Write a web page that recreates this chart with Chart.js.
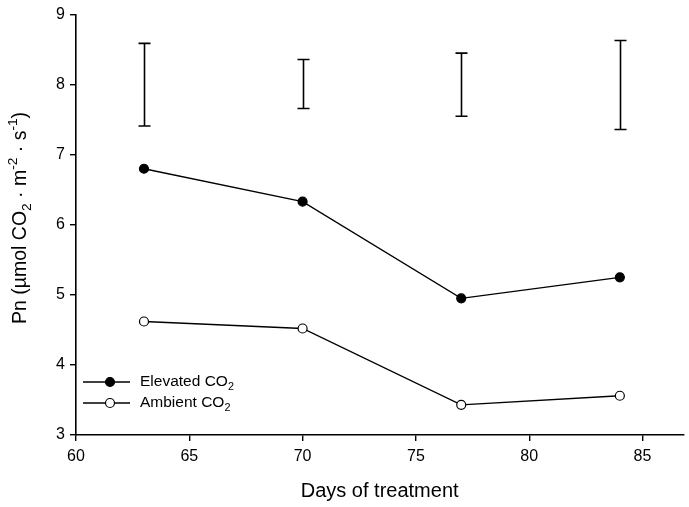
<!DOCTYPE html>
<html>
<head>
<meta charset="utf-8">
<script src="https://cdn.jsdelivr.net/npm/chart.js@4/dist/chart.umd.min.js"></script>
<style>
  html, body { margin: 0; padding: 0; background: #fff; overflow: hidden; }
  canvas { display: block; }
</style>
</head>
<body>
<canvas id="graph" width="689" height="507"></canvas>
<script>
// days of treatment
const days = [63, 70, 77, 84];
// net photosynthesis, umol CO2 m-2 s-1
const elevated = [6.80, 6.33, 4.95, 5.25];
const ambient = [4.62, 4.52, 3.43, 3.56];
// LSD bars drawn at the top
const barLow = [7.41, 7.66, 7.55, 7.36];
const barHigh = [8.59, 8.36, 8.45, 8.63];

const FONT = '"Liberation Sans", Arial, sans-serif';

function toPoints(ys) {
    return days.map((d, i) => ({ x: d, y: ys[i] }));
}

// vertical bars with caps
const errorBars = {
    id: 'errorBars',
    afterDatasetsDraw(chart) {
        const { ctx, scales: { x, y } } = chart;
        ctx.save();
        ctx.strokeStyle = '#000';
        ctx.lineWidth = 1.6;
        days.forEach((d, i) => {
            const px = Math.round(x.getPixelForValue(d)) + 0.5;
            const top = y.getPixelForValue(barHigh[i]);
            const bot = y.getPixelForValue(barLow[i]);
            ctx.beginPath();
            ctx.moveTo(px, top); ctx.lineTo(px, bot);
            ctx.moveTo(px - 6, top); ctx.lineTo(px + 6, top);
            ctx.moveTo(px - 6, bot); ctx.lineTo(px + 6, bot);
            ctx.stroke();
        });
        ctx.restore();
    }
};

// draws a run of text pieces; each piece may be sub or sup
function drawRich(ctx, parts, x, y, size) {
    let cx = x;
    parts.forEach(p => {
        const s = p.mode ? size * 0.7 : size;
        ctx.font = s + 'px ' + FONT;
        let dy = 0;
        if (p.mode === 'sub') dy = size * 0.32;
        if (p.mode === 'sup') dy = -size * 0.42;
        ctx.fillText(p.t, cx, y + dy);
        cx += ctx.measureText(p.t).width;
    });
    return cx - x;
}

function richWidth(ctx, parts, size) {
    let w = 0;
    parts.forEach(p => {
        const s = p.mode ? size * 0.7 : size;
        ctx.font = s + 'px ' + FONT;
        w += ctx.measureText(p.t).width;
    });
    return w;
}

const yTitleParts = [
    { t: 'Pn (\u00b5mol CO' }, { t: '2', mode: 'sub' },
    { t: ' \u00b7 m' }, { t: '-2', mode: 'sup' },
    { t: ' \u00b7 s' }, { t: '-1', mode: 'sup' },
    { t: ')' }
];

const annotations = {
    id: 'annotations',
    afterDraw(chart) {
        const { ctx } = chart;
        ctx.save();
        ctx.fillStyle = '#000';
        ctx.textBaseline = 'middle';
        ctx.textAlign = 'left';

        // y axis title
        const size = 19.5;
        const w = richWidth(ctx, yTitleParts, size);
        ctx.save();
        ctx.translate(21, 218);
        ctx.rotate(-Math.PI / 2);
        drawRich(ctx, yTitleParts, -w / 2, 0, size);
        ctx.restore();

        // legend
        const rows = [
            { ds: chart.data.datasets[0], label: 'Elevated CO', y: 382 },
            { ds: chart.data.datasets[1], label: 'Ambient CO', y: 403 }
        ];
        rows.forEach(r => {
            ctx.strokeStyle = '#000';
            ctx.lineWidth = 1.3;
            ctx.beginPath();
            ctx.moveTo(83, r.y); ctx.lineTo(130, r.y);
            ctx.stroke();
            ctx.beginPath();
            ctx.arc(110, r.y, 4.5, 0, Math.PI * 2);
            ctx.fillStyle = r.ds.pointBackgroundColor;
            ctx.fill();
            ctx.lineWidth = 1.2;
            ctx.stroke();
            ctx.fillStyle = '#000';
            drawRich(ctx, [{ t: r.label }, { t: '2', mode: 'sub' }], 140, r.y, 15.5);
        });
        ctx.restore();
    }
};

const config = {
    type: 'line',
    data: {
        datasets: [
            {
                label: 'Elevated CO2',
                data: toPoints(elevated),
                borderColor: '#000',
                borderWidth: 1.3,
                pointBackgroundColor: '#000',
                pointBorderColor: '#000',
                pointBorderWidth: 1.2,
                pointRadius: 4.5,
                tension: 0
            },
            {
                label: 'Ambient CO2',
                data: toPoints(ambient),
                borderColor: '#000',
                borderWidth: 1.3,
                pointBackgroundColor: '#fff',
                pointBorderColor: '#000',
                pointBorderWidth: 1.2,
                pointRadius: 4.5,
                tension: 0
            }
        ]
    },
    options: {
        responsive: false,
        animation: false,
        layout: { padding: { top: 6, right: 0, left: 0, bottom: 0 } },
        scales: {
            x: {
                type: 'linear',
                min: 60,
                max: 86.8,
                afterFit: s => { s.height = 72; s.paddingRight = 0; s.paddingLeft = 0; },
                border: { display: true, color: '#000', width: 1.6 },
                grid: { display: true, drawOnChartArea: false, drawTicks: true, tickLength: 6, color: '#000', lineWidth: 1.4 },
                ticks: {
                    stepSize: 5,
                    includeBounds: false,
                    color: '#000',
                    padding: 6,
                    font: { family: FONT, size: 16 }
                },
                title: {
                    display: true,
                    text: 'Days of treatment',
                    color: '#000',
                    font: { family: FONT, size: 20 },
                    padding: { top: 15 }
                }
            },
            y: {
                min: 3,
                max: 9,
                afterFit: s => { s.width = 76; },
                border: { display: true, color: '#000', width: 1.6 },
                grid: { display: true, drawOnChartArea: false, drawTicks: true, tickLength: 6, color: '#000', lineWidth: 1.4 },
                ticks: {
                    stepSize: 1,
                    color: '#000',
                    padding: 5,
                    font: { family: FONT, size: 16 }
                }
            }
        },
        plugins: {
            legend: { display: false },
            tooltip: { enabled: false }
        }
    },
    plugins: [errorBars, annotations]
};

const myChart = new Chart(document.getElementById('graph'), config);
</script>
</body>
</html>
